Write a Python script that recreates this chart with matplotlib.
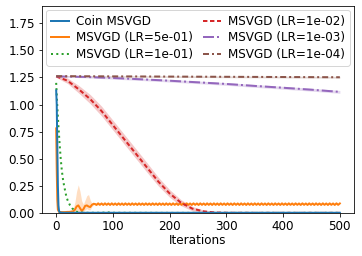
import matplotlib
matplotlib.use("Agg")
import matplotlib.pyplot as plt
import numpy as np

# ------------------ Data ------------------
coin_x = [0, 1, 2, 3, 4, 5, 6, 8, 10, 15, 20, 30, 50, 100, 200, 300, 400, 500]
coin_y = [1.13, 1.0, 0.62, 0.25, 0.07, 0.02, 0.008, 0.004, 0.003, 0.002, 0.002,
          0.002, 0.002, 0.002, 0.002, 0.002, 0.002, 0.002]

lr5_x = [0, 1, 2, 3, 5, 10, 15, 20, 25, 30, 33, 36, 39, 42, 45, 48, 51, 54, 57,
         60, 63, 66, 69] + list(range(71, 501, 3))
lr5_y = [0.78, 0.4, 0.12, 0.03, 0.01, 0.008, 0.008, 0.01, 0.01, 0.015, 0.03,
         0.06, 0.07, 0.045, 0.02, 0.035, 0.065, 0.07, 0.06, 0.055, 0.075, 0.085,
         0.082,
         # oscillating plateau, iterations 71..500 (step 3)
         0.074, 0.089, 0.075, 0.088, 0.074, 0.089, 0.075, 0.088, 0.074, 0.089, 0.075, 0.088,
         0.074, 0.089, 0.075, 0.088, 0.074, 0.089, 0.075, 0.088, 0.074, 0.089, 0.075, 0.088,
         0.074, 0.089, 0.075, 0.088, 0.074, 0.089, 0.075, 0.088, 0.074, 0.089, 0.075, 0.088,
         0.074, 0.089, 0.075, 0.088, 0.074, 0.089, 0.075, 0.088, 0.074, 0.089, 0.075, 0.088,
         0.074, 0.089, 0.075, 0.088, 0.074, 0.089, 0.075, 0.088, 0.074, 0.089, 0.075, 0.088,
         0.074, 0.089, 0.075, 0.088, 0.074, 0.089, 0.075, 0.088, 0.074, 0.089, 0.075, 0.088,
         0.074, 0.089, 0.075, 0.088, 0.074, 0.089, 0.075, 0.088, 0.074, 0.089, 0.075, 0.088,
         0.074, 0.089, 0.075, 0.088, 0.074, 0.089, 0.075, 0.088, 0.074, 0.089, 0.075, 0.088,
         0.074, 0.089, 0.075, 0.088, 0.074, 0.089, 0.075, 0.088, 0.074, 0.089, 0.075, 0.088,
         0.074, 0.089, 0.075, 0.088, 0.074, 0.089, 0.075, 0.088, 0.074, 0.089, 0.075, 0.088,
         0.074, 0.089, 0.075, 0.088, 0.074, 0.089, 0.075, 0.088, 0.074, 0.089, 0.075, 0.088,
         0.074, 0.089, 0.075, 0.088, 0.074, 0.089, 0.075, 0.088, 0.074, 0.089, 0.075, 0.088]
lr5_band_x = [0, 1, 2, 3, 5, 10, 20, 30, 33, 36, 39, 42, 45, 48, 51, 54, 57, 60,
              63, 66, 69, 75]
lr5_band_lo = [0.7, 0.3, 0.06, 0.0, 0.0, 0.0, 0.0, 0.0, 0.0, 0.0, 0.0, 0.0,
               0.0, 0.01, 0.03, 0.04, 0.03, 0.03, 0.06, 0.075, 0.075, 0.075]
lr5_band_hi = [0.86, 0.5, 0.2, 0.06, 0.02, 0.015, 0.02, 0.04, 0.1, 0.2, 0.26,
               0.2, 0.11, 0.08, 0.12, 0.16, 0.17, 0.12, 0.09, 0.095, 0.09, 0.09]

lr1_x = [0, 2, 4, 6, 8, 10, 12, 14, 16, 18, 20, 24, 28, 32, 36, 40, 50, 80, 90,
         100, 200, 300, 400, 500]
lr1_y = [1.2, 0.98, 0.8, 0.64, 0.5, 0.39, 0.31, 0.25, 0.2, 0.15, 0.12, 0.075,
         0.045, 0.025, 0.012, 0.006, 0.002, 0.002, 0.006, 0.002, 0.001, 0.001,
         0.001, 0.001]

lr2_x = [0, 20, 40, 60, 80, 100, 120, 140, 160, 180, 200, 220, 240, 260, 280,
         300, 350, 400, 450, 500]
lr2_y = [1.26, 1.22, 1.14, 1.05, 0.94, 0.81, 0.68, 0.55, 0.42, 0.29, 0.18,
         0.095, 0.04, 0.015, 0.005, 0.002, 0.001, 0.001, 0.001, 0.001]
lr2_std = [0.01, 0.025, 0.035, 0.042, 0.045, 0.045, 0.045, 0.045, 0.044, 0.04,
           0.035, 0.028, 0.02, 0.012, 0.006, 0.003, 0.002, 0.001, 0.001, 0.001]

lr3_x = [0, 50, 100, 150, 200, 250, 300, 350, 400, 450, 500]
lr3_y = [1.26, 1.255, 1.245, 1.233, 1.22, 1.205, 1.19, 1.172, 1.155, 1.137,
         1.117]
lr3_std = [0.004, 0.008, 0.01, 0.011, 0.012, 0.012, 0.012, 0.013, 0.013, 0.013,
           0.013]

lr4_x = [0, 100, 200, 300, 400, 500]
lr4_y = [1.262, 1.26, 1.258, 1.256, 1.254, 1.252]
lr4_std = [0.004, 0.006, 0.007, 0.008, 0.008, 0.008]

# ------------------ Style ------------------
plt.rcParams.update({
    'font.size': 12,
    'font.family': 'DejaVu Sans',
})

fig, ax = plt.subplots(figsize=(362 / 72, 256 / 72), dpi=72)
fig.subplots_adjust(left=0.116, right=0.978, top=0.977, bottom=0.168)

c_blue, c_orange, c_green = '#1f77b4', '#ff7f0e', '#2ca02c'
c_red, c_purple, c_brown = '#d62728', '#9467bd', '#8c564b'

# bands
ax.fill_between(lr5_band_x, lr5_band_lo, lr5_band_hi, color=c_orange,
                alpha=0.25, linewidth=0)
y2, s2 = np.array(lr2_y), np.array(lr2_std)
ax.fill_between(lr2_x, y2 - s2, y2 + s2, color=c_red, alpha=0.25, linewidth=0)
y3, s3 = np.array(lr3_y), np.array(lr3_std)
ax.fill_between(lr3_x, y3 - s3, y3 + s3, color=c_purple, alpha=0.25, linewidth=0)
y4, s4 = np.array(lr4_y), np.array(lr4_std)
ax.fill_between(lr4_x, y4 - s4, y4 + s4, color=c_brown, alpha=0.25, linewidth=0)

# lines
ax.plot(coin_x, coin_y, color=c_blue, lw=2, label='Coin MSVGD', zorder=5)
ax.plot(lr5_x, lr5_y, color=c_orange, lw=2, label='MSVGD (LR=5e-01)')
ax.plot(lr1_x, lr1_y, color=c_green, lw=2, ls=':', label='MSVGD (LR=1e-01)')
ax.plot(lr2_x, lr2_y, color=c_red, lw=2, ls=(0, (2.2, 1.3)), label='MSVGD (LR=1e-02)')
ax.plot(lr3_x, lr3_y, color=c_purple, lw=2, ls=(0, (5.5, 1.5, 1, 1.5)),
        label='MSVGD (LR=1e-03)')
ax.plot(lr4_x, lr4_y, color=c_brown, lw=2, ls=(0, (3, 1.5, 1, 1.5)),
        label='MSVGD (LR=1e-04)')

ax.set_xlim(-25, 525)
ax.set_ylim(0, 1.91)
ax.set_xticks([0, 100, 200, 300, 400, 500])
ax.set_yticks([0.0, 0.25, 0.5, 0.75, 1.0, 1.25, 1.5, 1.75])
ax.set_xlabel('Iterations', labelpad=1)

ax.legend(loc='upper right', ncol=2, fontsize=12, handlelength=1.5,
          columnspacing=0.8, handletextpad=0.6, borderaxespad=0.35,
          labelspacing=0.3)

fig.savefig('out.png', dpi=72)
